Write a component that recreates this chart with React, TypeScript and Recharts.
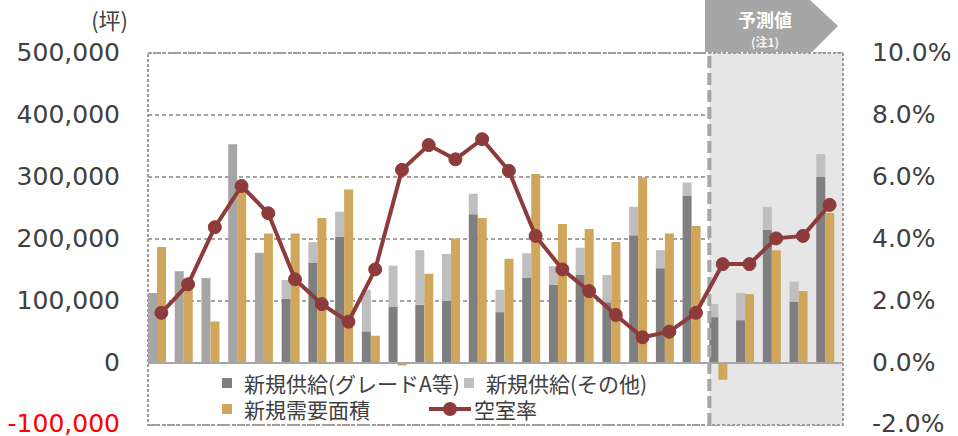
import React from 'react';
import {
  ComposedChart, Bar, Line, XAxis, YAxis, CartesianGrid, ReferenceArea, ReferenceLine, Legend,
} from 'recharts';

const years = ['2000','2001','2002','2003','2004','2005','2006','2007','2008','2009','2010','2011','2012','2013','2014','2015','2016','2017','2018','2019','2020','2021','2022','2023','2024','2025'];
const unclassified = [113000, 148000, 137000, 353000, 178000, null, null, null, null, null, null, null, null, null, null, null, null, null, null, null, null, null, null, null, null, null];
const gradeA = [null, null, null, null, null, 104000, 162000, 204000, 51000, 91000, 94000, 100000, 240000, 82000, 138000, 126000, 142000, 98000, 206000, 153000, 270000, 74000, 69000, 215000, 99000, 300000];
const other = [null, null, null, null, null, 30000, 33000, 40000, 67000, 66000, 88000, 76000, 33000, 36000, 39000, 30000, 44000, 44000, 46000, 29000, 21000, 21000, 44000, 37000, 32000, 37000];
const demand = [187000, 123000, 67000, 282000, 209000, 209000, 234000, 280000, 44000, -4000, 144000, 201000, 234000, 168000, 305000, 224000, 216000, 195000, 299000, 209000, 221000, -27000, 111000, 182000, 116000, 242000];
const vacancy = [1.62, 2.54, 4.38, 5.71, 4.83, 2.70, 1.90, 1.33, 3.02, 6.23, 7.03, 6.57, 7.22, 6.20, 4.10, 3.02, 2.32, 1.55, 0.83, 1.01, 1.62, 3.19, 3.19, 4.02, 4.10, 5.10];

const leftTicks = [-100000, 0, 100000, 200000, 300000, 400000, 500000];
const rightTicks = [-2, 0, 2, 4, 6, 8, 10];
const forecastStart = '2021';
const forecastEnd = '2025';

const seriesNames = {
  gradeA: '新規供給(グレードA等)',
  other: '新規供給(その他)',
  demand: '新規需要面積',
  vacancy: '空室率',
};

const COLORS = {
  gradeA: '#7F7F7F',
  other: '#BFBFBF',
  unclassified: '#A6A6A6',
  demand: '#CFA65C',
  vacancy: '#8E3B3B',
  text: '#404040',
};

const data = years.map((y, i) => ({
  year: y,
  unclassified: unclassified[i],
  gradeA: gradeA[i],
  other: other[i],
  demand: demand[i],
  vacancy: vacancy[i],
}));

const FONT = 'DejaVu Sans, Verdana, sans-serif';
const JFONT = '"Noto Sans CJK JP", "Noto Sans", sans-serif';

const LeftTick = (props: any) => {
  const { x, y, payload } = props;
  const v = payload.value as number;
  return (
    <text x={x} y={y} dy={v < 0 ? 7 : 8} textAnchor="end" fontSize={25} fontFamily={FONT}
      fill={v < 0 ? '#FF0000' : COLORS.text}>
      {v.toLocaleString('en-US')}
    </text>
  );
};

const RightTick = (props: any) => {
  const { x, y, payload } = props;
  const v = payload.value as number;
  return (
    <text x={x} y={y} dy={v < 0 ? 7 : 8} textAnchor="start" fontSize={25} fontFamily={FONT} fill={COLORS.text}>
      {v.toFixed(1) + '%'}
    </text>
  );
};

const Square = ({ color }: { color: string }) => (
  <span style={{ display: 'inline-block', width: 10, height: 10, background: color, marginRight: 12, verticalAlign: 'middle' }} />
);

const renderLegend = () => (
  <div style={{ fontFamily: JFONT, fontSize: 21, color: COLORS.text, lineHeight: '24px', width: 440 }}>
    <div style={{ display: 'flex', alignItems: 'center', height: 26 }}>
      <Square color={COLORS.gradeA} />
      <span style={{ width: 220 }}>{seriesNames.gradeA}</span>
      <Square color={COLORS.other} />
      <span>{seriesNames.other}</span>
    </div>
    <div style={{ display: 'flex', alignItems: 'center', height: 26 }}>
      <Square color={COLORS.demand} />
      <span style={{ width: 185 }}>{seriesNames.demand}</span>
      <svg width={42} height={16} style={{ marginRight: 3 }}>
        <line x1={0} y1={8} x2={42} y2={8} stroke={COLORS.vacancy} strokeWidth={4} />
        <circle cx={21} cy={8} r={7} fill={COLORS.vacancy} />
      </svg>
      <span>{seriesNames.vacancy}</span>
    </div>
  </div>
);

export default function App() {
  return (
    <div style={{ position: 'absolute', left: 0, top: 0, width: 958, height: 436, background: '#fff' }}>
      <ComposedChart
        width={958}
        height={436}
        data={data}
        margin={{ top: 53, right: 0, bottom: 11, left: 0 }}
        barCategoryGap="0%"
        barGap={0}
      >
        <ReferenceArea x1={forecastStart} x2={forecastEnd} y1={-100000} y2={500000} yAxisId="left"
          fill="#E6E6E6" fillOpacity={1} stroke="none" ifOverflow="extendDomain" />
        <CartesianGrid yAxisId="left" horizontal vertical={false} stroke="#8A8580" strokeDasharray="4 3" strokeWidth={1.3} />
        <XAxis dataKey="year" hide />
        <YAxis yAxisId="left" orientation="left" width={148} domain={[-100000, 500000]} ticks={leftTicks}
          axisLine={false} tickLine={false} tickMargin={22} tick={<LeftTick />} interval={0} />
        <YAxis yAxisId="right" orientation="right" width={115} domain={[-2, 10]} ticks={rightTicks}
          axisLine={false} tickLine={false} tickMargin={23} tick={<RightTick />} interval={0} />
        <ReferenceArea x1={years[0]} x2={years[years.length - 1]} y1={-100000} y2={500000} yAxisId="left"
          fill="none" stroke="#A39C95" strokeWidth={2} strokeDasharray="3 2" />
        <ReferenceLine yAxisId="left" y={0} stroke="#A6A6A6" strokeWidth={2} />
        <Bar yAxisId="left" dataKey="unclassified" stackId="supply" fill={COLORS.unclassified} isAnimationActive={false} />
        <Bar yAxisId="left" dataKey="gradeA" stackId="supply" fill={COLORS.gradeA} isAnimationActive={false} />
        <Bar yAxisId="left" dataKey="other" stackId="supply" fill={COLORS.other} isAnimationActive={false} />
        <Bar yAxisId="left" dataKey="demand" fill={COLORS.demand} isAnimationActive={false} />
        <Bar yAxisId="left" dataKey="spacer" fill="none" isAnimationActive={false} legendType="none" />
        <ReferenceLine yAxisId="left" x={forecastStart} position="start" stroke="#A6A6A6" strokeWidth={4} strokeDasharray="12 5" />
        <Line yAxisId="right" dataKey="vacancy" stroke={COLORS.vacancy} strokeWidth={4}
          dot={{ r: 6.5, fill: COLORS.vacancy, stroke: COLORS.vacancy, strokeWidth: 1 }}
          activeDot={false} isAnimationActive={false} />
        <Legend layout="vertical" align="center" verticalAlign="middle" content={renderLegend}
          wrapperStyle={{ left: 222, top: 370, width: 440, height: 52 }} />
      </ComposedChart>
      <svg width={958} height={60} style={{ position: 'absolute', left: 0, top: 0, pointerEvents: 'none' }}>
        <text x={128} y={29} textAnchor="end" fontSize={22} fontFamily={JFONT} fill={COLORS.text}>(坪)</text>
        <polygon points="705,0 810,0 838,26 812,52 705,52" fill="#A6A6A6" />
        <text x={765} y={27} textAnchor="middle" fontSize={18} fontWeight="bold" fontFamily={JFONT} fill="#FFFFFF">予測値</text>
        <text x={765} y={47} textAnchor="middle" fontSize={12} fontWeight="bold" fontFamily={JFONT} fill="#F2F2F2">(注1)</text>
      </svg>
    </div>
  );
}
